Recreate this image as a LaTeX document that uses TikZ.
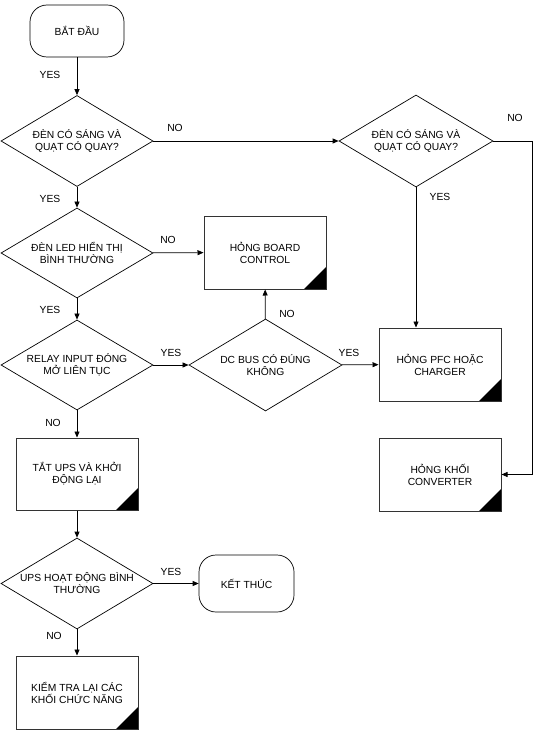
\documentclass[tikz,border=0pt]{standalone}
\usepackage{fontspec}
\setmainfont{Liberation Sans}
\usetikzlibrary{shapes.geometric,arrows.meta,calc}
\tikzset{
  base/.style={font=\fontsize{10.3}{12}\selectfont, align=center, inner sep=0pt},
  term/.style={base, draw, rounded corners=17pt, line width=0.7pt},
  dec/.style={draw, diamond, inner sep=0pt, minimum width=152pt, minimum height=91pt, line width=0.7pt,
    label={[base]center:#1}},
  proc/.style={base, draw=black!80, rectangle, minimum width=122pt, minimum height=73pt, line width=1pt,
    append after command={\pgfextra{\fill[black] (\tikzlastnode.south east) -- ++(-23pt,0) -- ++(23pt,23pt) -- cycle;}}},
  conn/.style={line width=0.7pt, -{Triangle[length=6pt,width=5pt]}},
  lbl/.style={font=\fontsize{10.3}{12}\selectfont, inner sep=0pt}
}
\begin{document}
\begin{tikzpicture}[x=1pt,y=-1pt]
\useasboundingbox (0,0) rectangle (552,730);
\node[term, minimum width=94pt, minimum height=52pt] (start) at (77,31) {BẮT ĐẦU};
\node[dec={ĐÈN CÓ SÁNG VÀ\\QUẠT CÓ QUAY?}] (d1) at (77,141) {};
\node[dec={ĐÈN CÓ SÁNG VÀ\\QUẠT CÓ QUAY?}, minimum width=154pt, minimum height=92pt] (d2) at (416,141) {};
\node[dec={ĐÈN LED HIỂN THỊ\\BÌNH THƯỜNG}, minimum height=90pt] (d3) at (77,253) {};
\node[proc] (board) at (265,252.5) {HỎNG BOARD\\CONTROL};
\node[dec={RELAY INPUT ĐÓNG\\MỞ LIÊN TỤC}, minimum height=90pt] (d4) at (77,365) {};
\node[dec={DC BUS CÓ ĐÚNG\\KHÔNG}, minimum width=153pt, minimum height=92pt] (d5) at (265.5,365) {};
\node[proc] (pfc) at (440,364.5) {HỎNG PFC HOẶC\\CHARGER};
\node[proc] (conv) at (440,474.5) {HỎNG KHỐI\\CONVERTER};
\node[proc, minimum height=72pt] (tat) at (77,474) {TẮT UPS VÀ KHỞI\\ĐỘNG LẠI};
\node[dec={UPS HOẠT ĐỘNG BÌNH\\THƯỜNG}] (d6) at (77,583.5) {};
\node[term, minimum width=95pt, minimum height=57pt] (end) at (246.5,583.5) {KẾT THÚC};
\node[proc] (kiem) at (77,692.5) {KIỂM TRA LẠI CÁC\\KHỐI CHỨC NĂNG};
\coordinate (c1) at (532,141);
\coordinate (c2) at (532,474.5);

\draw[conn] (start) -- (d1);
\draw[conn] (d1) -- (d2);
\draw[conn] (d2.east) -- (c1) -- (c2) -- (conv.east);
\draw[conn] (d2.south) -- (d2.south |- pfc.north);
\draw[conn] (d1) -- (d3);
\draw[conn] (d3) -- (board);
\draw[conn] (d3) -- (d4);
\draw[conn] (d4) -- (d5);
\draw[conn] (d5) -- (board);
\draw[conn] (d5) -- (pfc);
\draw[conn] (d4) -- (tat);
\draw[conn] (tat) -- (d6);
\draw[conn] (d6) -- (end);
\draw[conn] (d6) -- (kiem);

\node[lbl] (l1) at (50,75) {YES};
\node[lbl] (l2) at (175,128) {NO};
\node[lbl] (l3) at (515,118) {NO};
\node[lbl] (l4) at (440,197) {YES};
\node[lbl] (l5) at (50,199) {YES};
\node[lbl] (l6) at (168,240) {NO};
\node[lbl] (l7) at (50,310) {YES};
\node[lbl] (l8) at (171,353) {YES};
\node[lbl] (l9) at (287,314) {NO};
\node[lbl] (l10) at (349,353) {YES};
\node[lbl] (l11) at (53,423) {NO};
\node[lbl] (l12) at (171,572) {YES};
\node[lbl] (l13) at (54,636) {NO};
\end{tikzpicture}
\end{document}
